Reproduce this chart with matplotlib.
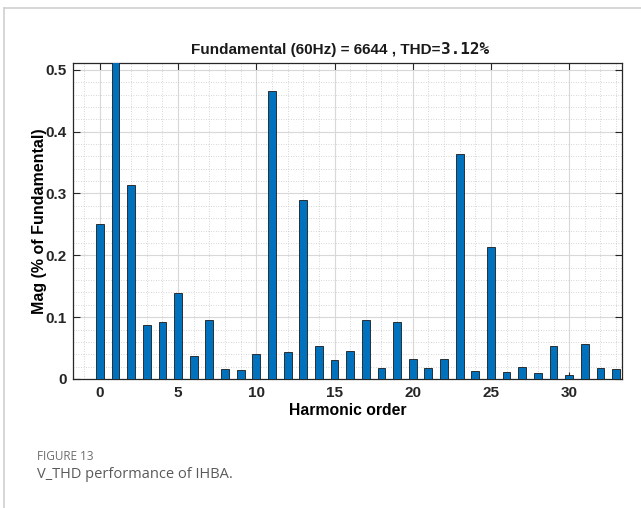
import matplotlib
matplotlib.use("Agg")
import matplotlib.pyplot as plt
from matplotlib.ticker import MultipleLocator, FuncFormatter
from matplotlib.lines import Line2D

# harmonic spectrum
harmonic_order = list(range(34))
mag = [0.251, 0.53, 0.313, 0.088, 0.0925, 0.139, 0.037, 0.095, 0.016, 0.014,
       0.040, 0.465, 0.044, 0.289, 0.053, 0.031, 0.046, 0.096, 0.017, 0.0925,
       0.032, 0.017, 0.033, 0.364, 0.013, 0.213, 0.011, 0.019, 0.009, 0.054,
       0.006, 0.057, 0.017, 0.016]
x_ticks = [0, 5, 10, 15, 20, 25, 30]
y_ticks = [0, 0.1, 0.2, 0.3, 0.4, 0.5]

title_main = "Fundamental (60Hz) = 6644 , THD="
title_thd = "3.12%"

plt.rcParams['font.family'] = ['Liberation Sans', 'DejaVu Sans']

fig = plt.figure(figsize=(6.41, 5.08), dpi=100)
ax = fig.add_axes([0.1144, 0.254, 0.8555, 0.622])

ax.bar(harmonic_order, mag, width=0.5, color='#0072BD', edgecolor='#1a1a1a',
       linewidth=0.6, zorder=3)

ax.set_xlim(-1.7, 33.36)
ax.set_ylim(0, 0.511)
ax.set_xticks(x_ticks)
ax.set_yticks(y_ticks)
ax.yaxis.set_major_formatter(FuncFormatter(lambda v, p: '0' if v == 0 else f'{v:.1f}'))
ax.xaxis.set_minor_locator(MultipleLocator(1))
ax.yaxis.set_minor_locator(MultipleLocator(0.02))

ax.grid(which='major', color='#d8d8d8', linewidth=0.8, linestyle='-')
ax.grid(which='minor', color='#c8c8c8', linewidth=0.6, linestyle=(0, (1, 2)))
ax.set_axisbelow(True)

ax.tick_params(which='major', direction='in', length=5, width=0.8, top=True,
               right=True, labelsize=11, colors='#262626', pad=5)
ax.tick_params(which='minor', length=0, top=True, right=True)
for lab in ax.get_xticklabels() + ax.get_yticklabels():
    lab.set_fontweight('bold')
for sp in ax.spines.values():
    sp.set_color('#262626')
    sp.set_linewidth(0.9)

ax.set_xlabel('Harmonic order', fontsize=11.3, fontweight='bold', labelpad=2)
ax.set_ylabel('Mag (% of Fundamental)', fontsize=11.5, fontweight='bold', labelpad=-1)

# title in two fonts, like the MATLAB output
t1 = fig.text(0.298, 0.893, title_main, fontsize=11, fontweight='bold',
              ha='left', va='baseline', color='#1a1a1a')
ax.annotate(title_thd, xy=(1, 0), xycoords=t1, ha='left', va='bottom',
            fontsize=11.5, fontweight='bold', family='DejaVu Sans Mono',
            color='#1a1a1a')

# caption
fig.text(37 / 641, 1 - 456 / 508, 'FIGURE 13', fontsize=8.5, color='#6d6d6d',
         family='Open Sans', va='center', ha='left')
fig.text(37 / 641, 1 - 475 / 508, 'V_THD performance of IHBA.', fontsize=10.5,
         color='#5a5a5a', family='Open Sans', va='center', ha='left')

# card border (top and left)
fig.add_artist(Line2D([4 / 641, 1], [1 - 8 / 508, 1 - 8 / 508],
                      transform=fig.transFigure, color='#d0d0d0', linewidth=1.2))
fig.add_artist(Line2D([4 / 641, 4 / 641], [1 - 8 / 508, 0],
                      transform=fig.transFigure, color='#d0d0d0', linewidth=1.2))

fig.savefig('out.png', dpi=100)
